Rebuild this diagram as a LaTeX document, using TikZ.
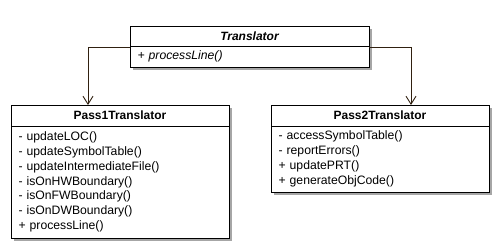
\documentclass[tikz,border=0pt]{standalone}
\usepackage{fontspec}
\setmainfont{Liberation Sans}
\usetikzlibrary{arrows.meta,shadows}
\begin{document}
\begin{tikzpicture}[x=1pt,y=-1pt,
  umlfont/.style={font=\fontsize{12.2}{14.8}\selectfont},
  classpart/.style={draw=black, line width=0.8pt, fill=white, rectangle,
    anchor=north west, inner sep=0pt, outer sep=0pt,
    drop shadow={shadow xshift=3pt, shadow yshift=-3pt, fill=black!35, opacity=1},
    umlfont},
  header/.style={classpart, font=\fontsize{12}{14.8}\selectfont\bfseries},
  body/.style={classpart, align=left, inner xsep=7.5pt},
  conn/.style={draw=black!75!brown, line width=0.9pt,
    -{Straight Barb[length=8pt,width=10pt,line width=0.9pt]}}]
\useasboundingbox (0,0) rectangle (501,250);

% abstract base class
\node[header, minimum width=239, minimum height=20,
  font=\fontsize{12}{14.8}\selectfont\bfseries\itshape] (th) at (130,26) {Translator};
\node[body, minimum width=239, minimum height=21, text width=224,
  font=\fontsize{12.2}{14.8}\selectfont\itshape] (tb) at (130,46) {+ processLine()};

% first pass
\node[header, minimum width=218, minimum height=21] (p1h) at (11,105) {Pass1Translator};
\node[body, minimum width=218, minimum height=112, text width=203] (p1b) at (11,126)
  {- updateLOC()\\
   - updateSymbolTable()\\
   - updateIntermediateFile()\\
   - isOnHWBoundary()\\
   - isOnFWBoundary()\\
   - isOnDWBoundary()\\
   + processLine()};

% second pass
\node[header, minimum width=218, minimum height=21] (p2h) at (271,105) {Pass2Translator};
\node[body, minimum width=218, minimum height=66, text width=203] (p2b) at (271,126)
  {- accessSymbolTable()\\
   - reportErrors()\\
   + updatePRT()\\
   + generateObjCode()};

% generalisation links
\draw[conn] ([yshift=-1pt]tb.north west) -| ([xshift=-32pt]p1h.north);
\draw[conn] ([yshift=-1pt]tb.north east) -| ([xshift=31pt]p2h.north);
\end{tikzpicture}
\end{document}
